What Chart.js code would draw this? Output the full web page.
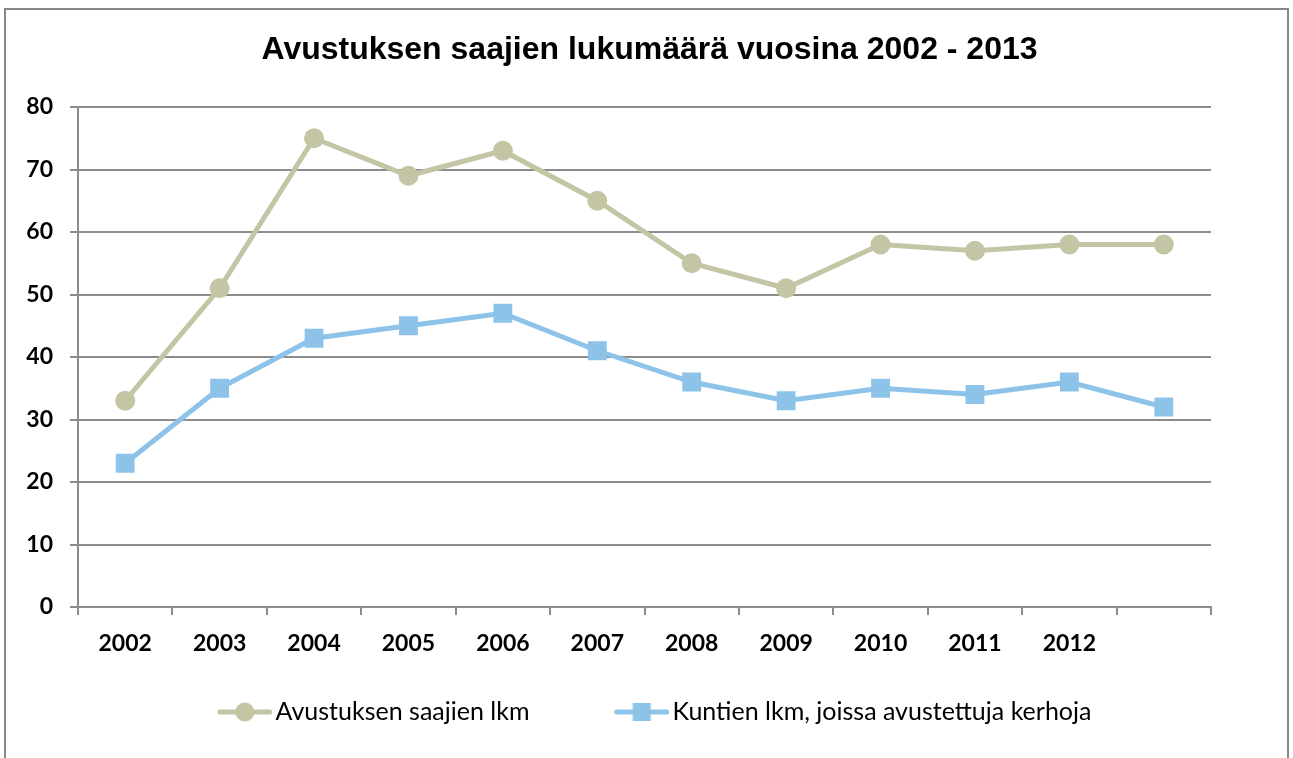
<!DOCTYPE html>
<html>
<head>
<meta charset="utf-8">
<script src="https://cdn.jsdelivr.net/npm/chart.js@4"></script>
<style>
html,body{margin:0;padding:0;background:#fff;}
#wrap{width:1293px;height:758px;}
</style>
</head>
<body>
<div id="wrap"><canvas id="c" width="1293" height="758"></canvas></div>
<script>
const years=["2002","2003","2004","2005","2006","2007","2008","2009","2010","2011","2012",""]
const saajat=[33,51,75,69,73,65,55,51,58,57,58,58]
const kunnat=[23,35,43,45,47,41,36,33,35,34,36,32]
const yTicks=[0,10,20,30,40,50,60,70,80]

const c1="#c4c5a5"
const c2="#8dc3e8"
const grey="#8c8c8c"

const legendPad=65
const legendFont=25
const legendY=712
// legend icon: blank on the left, line + marker on the right
const boxW=65.5
function legendIcon(color,shape){
const W=boxW+19
const cv=document.createElement("canvas")
cv.width=W
cv.height=24
const g=cv.getContext("2d")
const x0=W-56
g.strokeStyle=color
g.lineWidth=5
g.lineCap="round"
g.beginPath()
g.moveTo(x0+3,12)
g.lineTo(W-3,12)
g.stroke()
g.fillStyle=color
if(shape=="circle"){
g.beginPath()
g.arc(x0+28,12,9.5,0,Math.PI*2)
g.fill()
}else{
g.fillRect(x0+19,3,18,18)
}
return cv
}

const frame={
id:"frame",
beforeDraw(chart){
const ctx=chart.ctx
ctx.save()
ctx.strokeStyle="#888"
ctx.lineWidth=2
ctx.strokeRect(5,9,1283,800)
ctx.restore()
},
afterLayout(chart){
// move legend row down to its place under the axis labels
const lg=chart.legend
const dy=legendY-(lg.top+legendPad+legendFont/2)
lg.top+=dy
lg.bottom+=dy
}
}

new Chart(document.getElementById("c"),{
type:"line",
data:{
labels:years,
datasets:[{
label:"Avustuksen saajien lkm",
data:saajat,
borderColor:c1,
backgroundColor:c1,
borderWidth:5,
pointStyle:"circle",
pointRadius:10,
pointBorderWidth:0,
tension:0
},{
label:"Kuntien lkm, joissa avustettuja kerhoja",
data:kunnat,
borderColor:c2,
backgroundColor:c2,
borderWidth:5,
pointStyle:"rect",
pointRadius:13.3,
pointBorderWidth:0,
tension:0
}]
},
options:{
responsive:false,
animation:false,
layout:{padding:{top:0,right:15,bottom:0,left:21}},
plugins:{
title:{
display:true,
text:"Avustuksen saajien lukumäärä vuosina 2002 - 2013",
color:"#000",
font:{family:"'Liberation Sans', Arial, sans-serif",size:32,weight:"bold"},
padding:{top:31,bottom:37.6}
},
legend:{
position:"bottom",
fullSize:false,
labels:{
usePointStyle:true,
pointStyleWidth:boxW,
color:"#000",
padding:legendPad,
font:{family:"Lato, sans-serif",size:legendFont},
generateLabels(chart){
return chart.data.datasets.map((d,i)=>({
text:d.label,
fillStyle:d.borderColor,
strokeStyle:d.borderColor,
lineWidth:0,
pointStyle:legendIcon(d.borderColor,i==0?"circle":"rect"),
datasetIndex:i,
hidden:false
}))
}
}
},
tooltip:{enabled:false}
},
scales:{
x:{
offset:true,
afterFit(s){s.height=51},
border:{color:grey,width:2},
grid:{offset:true,drawOnChartArea:false,drawTicks:true,tickLength:8,color:grey,lineWidth:2},
ticks:{color:"#000",padding:15,maxRotation:0,autoSkip:false,font:{family:"Lato, sans-serif",size:23,weight:"bold"}}
},
y:{
min:0,
max:80,
afterFit(s){s.width=57},
afterBuildTicks(s){s.ticks=yTicks.map(v=>({value:v}))},
border:{color:grey,width:2},
grid:{color:grey,lineWidth:2,tickLength:8},
ticks:{color:"#000",padding:17,font:{family:"Lato, sans-serif",size:23,weight:"bold"}}
},
yRight:{
position:"right",
min:0,
max:80,
afterFit(s){s.width=67},
border:{display:false},
grid:{display:false},
ticks:{display:false}
}
}
},
plugins:[frame]
})
</script>
</body>
</html>
